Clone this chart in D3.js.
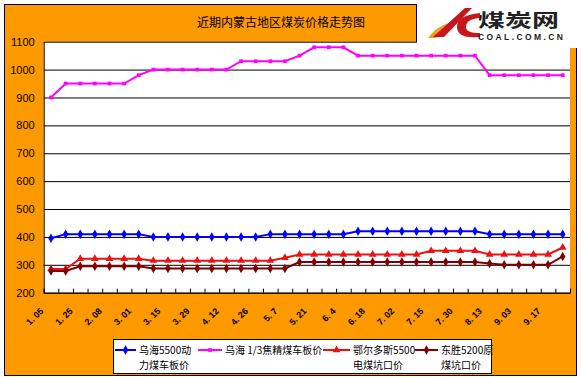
<!DOCTYPE html>
<html>
<head>
<meta charset="utf-8">
<script src="https://cdn.jsdelivr.net/npm/d3@7"></script>
<style>
    body { margin: 0; background: #fff; }
    svg text { font-family: "Liberation Sans", Arial, sans-serif; }
    .cjk { font-family: "Noto Sans CJK SC", sans-serif; }
</style>
</head>
<body>
<div id="chart"></div>
<script>
/* DATA */
const tickLabels = ["1. 05","1. 25","2. 08","3. 01","3. 15","3. 29","4. 12","4. 26","5. 7",
                    "5. 21","6. 4","6. 18","7. 02","7. 15","7. 30","8. 13","9. 03","9. 17"];
const yTicks = [200,300,400,500,600,700,800,900,1000,1100];

const wuhaiPower = [395,410,410,410,410,410,410,400,400,400,400,400,400,400,400,410,410,410,
                    410,410,410,420,420,420,420,420,420,420,420,420,410,410,410,410,410,410];
const wuhaiCoke  = [900,950,950,950,950,950,980,1000,1000,1000,1000,1000,1000,1030,1030,1030,1030,1050,
                    1080,1080,1080,1050,1050,1050,1050,1050,1050,1050,1050,1050,980,980,980,980,980,980];
const ordos5500  = [285,285,322,322,322,322,322,315,315,315,315,315,315,315,315,315,325,337,
                    337,337,337,337,337,337,337,337,350,350,350,350,337,337,337,337,337,362];
const dongsheng  = [278,278,295,295,295,295,295,287,287,287,287,287,287,287,287,287,287,310,
                    310,310,310,310,310,310,310,310,310,310,310,310,305,300,300,300,300,330];

const seriesNames = [["乌海5500动","力煤车板价"],["乌海 1/3焦精煤车板价"],["鄂尔多斯5500","电煤坑口价"],["东胜5200原","煤坑口价"]];
const seriesColors = ["#0000ff","#ff00ff","#ee1111","#800000"];

const series = [wuhaiPower, wuhaiCoke, ordos5500, dongsheng];
const symbols = [d3.symbolDiamond, d3.symbolSquare, d3.symbolTriangle, d3.symbolDiamond];
const symbolSizes = [26, 14, 26, 26];

/* SVG */
const width = 582, height = 377;
const plot = {left: 43.7, right: 570, top: 41.7, bottom: 292.7};

const svg = d3.select("#chart")
    .append("svg")
    .attr("width", width)
    .attr("height", height);

// orange frame
svg.append("rect")
    .attr("x", 4.5).attr("y", 4.5)
    .attr("width", 572).attr("height", 371)
    .attr("fill", "#ff9900")
    .attr("stroke", "#000");

// plot area
svg.append("rect")
    .attr("x", plot.left).attr("y", plot.top)
    .attr("width", plot.right - plot.left).attr("height", plot.bottom - plot.top)
    .attr("fill", "#fff");

/* SCALES */
const x = d3.scaleBand()
    .domain(d3.range(wuhaiPower.length))
    .range([plot.left, plot.right]);
const cx = i => x(i) + x.bandwidth() / 2;

const y = d3.scaleLinear()
    .domain([200, 1100])
    .range([plot.bottom, plot.top]);

/* AXES */
const yAxis = svg.append("g")
    .attr("transform", `translate(${plot.left},0)`)
    .call(d3.axisLeft(y).tickValues(yTicks).tickFormat(d3.format("d"))
        .tickSizeInner(-(plot.right - plot.left)).tickSizeOuter(0).tickPadding(9));
yAxis.selectAll("line").attr("stroke", "#000");
yAxis.select(".domain").attr("stroke", "#000");
yAxis.selectAll("text").attr("font-size", 11).attr("fill", "#000");

const xb = d3.scaleLinear().domain([0, wuhaiPower.length]).range([plot.left, plot.right]);
const xAxis = svg.append("g")
    .attr("transform", `translate(0,${plot.bottom})`)
    .call(d3.axisBottom(xb).tickValues(d3.range(wuhaiPower.length + 1)).tickSize(-4).tickFormat(""));
xAxis.selectAll("line").attr("stroke", "#000");
xAxis.select(".domain").attr("stroke", "#000");

svg.append("g").selectAll("text")
    .data(tickLabels)
    .enter()
    .append("text")
    .attr("transform", (d, i) => `translate(${cx(i * 2) - 7},${plot.bottom + 19}) rotate(-45)`)
    .attr("text-anchor", "end")
    .attr("font-size", 9)
    .attr("font-weight", "bold")
    .attr("fill", "#000")
    .text(d => d);

/* LINES */
const line = d3.line()
    .x((d, i) => cx(i))
    .y(d => y(d));

series.forEach(function(s, k) {
    svg.append("path")
        .datum(s)
        .attr("fill", "none")
        .attr("stroke", seriesColors[k])
        .attr("stroke-width", 2)
        .attr("d", line);
    svg.append("g").selectAll("path")
        .data(s)
        .enter()
        .append("path")
        .attr("transform", (d, i) => `translate(${cx(i)},${y(d)})`)
        .attr("d", d3.symbol().type(symbols[k]).size(symbolSizes[k]))
        .attr("fill", seriesColors[k]);
});

/* TITLE */
svg.append("text")
    .attr("class", "cjk")
    .attr("x", 281).attr("y", 27)
    .attr("text-anchor", "middle")
    .attr("font-size", 12)
    .attr("fill", "#000")
    .text("近期内蒙古地区煤炭价格走势图");

/* LOGO */
svg.append("rect")
    .attr("x", 417).attr("y", 0)
    .attr("width", 165).attr("height", 48)
    .attr("fill", "#fff");
svg.append("line")
    .attr("x1", 416.5).attr("x2", 416.5).attr("y1", 4).attr("y2", plot.top)
    .attr("stroke", "#000");
svg.append("path")
    .attr("d", "M428,38 Q440,21 464,21 Q446,25 436,38 Z")
    .attr("fill", "#f5a020");
svg.append("path")
    .attr("d", "M433,37 L465,8 L472,8 L444,37 Z")
    .attr("fill", "#c8161d");
svg.append("path")
    .attr("d", "M480,13 Q457,15 457,27 Q457,39 480,37 L480,33 Q466,33 466,27 Q466,19 480,18 Z")
    .attr("fill", "#c8161d");
svg.append("text")
    .attr("class", "cjk")
    .attr("x", 478).attr("y", 27)
    .attr("font-size", 18)
    .attr("font-weight", "bold")
    .attr("textLength", 81)
    .attr("lengthAdjust", "spacingAndGlyphs")
    .attr("fill", "#222")
    .text("煤炭网");
svg.append("text")
    .attr("x", 478).attr("y", 40)
    .attr("font-size", 8.5)
    .attr("font-weight", "bold")
    .attr("textLength", 85)
    .attr("fill", "#222")
    .text("COAL.COM.CN");

/* LEGEND */
const legend = svg.append("g");
legend.append("rect")
    .attr("x", 113.5).attr("y", 339.5)
    .attr("width", 378).attr("height", 34)
    .attr("fill", "#fff")
    .attr("stroke", "#000");

const legendX = [115, 198, 323, 415];
const legendW = [21, 24, 27, 23];
seriesNames.forEach(function(names, k) {
    const g = legend.append("g");
    g.append("line")
        .attr("x1", legendX[k]).attr("x2", legendX[k] + legendW[k])
        .attr("y1", 350).attr("y2", 350)
        .attr("stroke", seriesColors[k]).attr("stroke-width", 2);
    g.append("path")
        .attr("transform", `translate(${legendX[k] + legendW[k] / 2},350)`)
        .attr("d", d3.symbol().type(symbols[k]).size(symbolSizes[k]))
        .attr("fill", seriesColors[k]);
    names.forEach(function(t, j) {
        g.append("text")
            .attr("class", "cjk")
            .attr("x", legendX[k] + legendW[k] + 3)
            .attr("y", 354 + j * 15)
            .attr("font-size", 10)
            .attr("fill", "#000")
            .text(t);
    });
});
</script>
</body>
</html>
